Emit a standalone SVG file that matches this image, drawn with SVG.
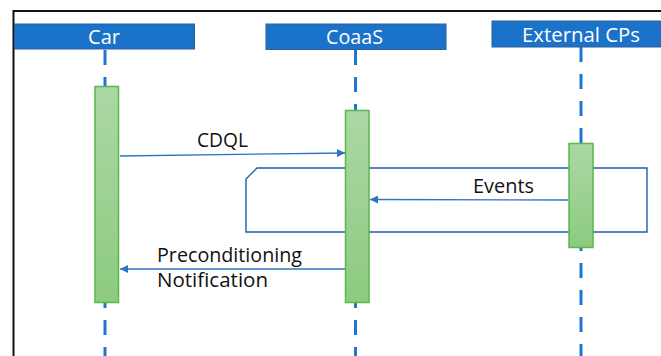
<svg xmlns="http://www.w3.org/2000/svg" width="661" height="356" viewBox="0 0 661 356">
  <defs>
    <linearGradient id="barFill" x1="0" y1="0" x2="0" y2="1">
      <stop offset="0" stop-color="#abd8a4"/>
      <stop offset="1" stop-color="#8dcb80"/>
    </linearGradient>
    <marker id="arrowHead" viewBox="0 0 10 10" refX="10" refY="5" markerWidth="9" markerHeight="8" markerUnits="userSpaceOnUse" orient="auto">
      <path d="M0,0 L10,5 L0,10 Z" fill="#2f74c0"/>
    </marker>
    <style>
      .head { fill: #1b72c9; stroke: #2b5f9c; stroke-width: 1; }
      .headText { font-family: "Open Sans", "Liberation Sans", sans-serif; font-size: 20px; fill: #ffffff; text-anchor: middle; }
      .lifeline { stroke: #1f76cf; stroke-width: 3; stroke-dasharray: 15 12; fill: none; }
      .bar { fill: url(#barFill); stroke: #58b84e; stroke-width: 1.5; }
      .msg { stroke: #2f74c0; stroke-width: 1.3; fill: none; marker-end: url(#arrowHead); }
      .label { font-family: "Open Sans", "Liberation Sans", sans-serif; font-size: 19.5px; fill: #111111; }
      .loop { fill: none; stroke: #1f5fa8; stroke-width: 1.4; }
      .border { stroke: #111111; stroke-width: 2; fill: none; }
    </style>
  </defs>

  <rect width="661" height="356" fill="#ffffff"/>

  <!-- outer border -->
  <path class="border" d="M13.5,356 L13.5,11 L661,11"/>

  <!-- lifelines -->
  <g id="lifelines">
    <line class="lifeline" x1="105" y1="50" x2="105" y2="356"/>
    <line class="lifeline" x1="355.5" y1="50" x2="355.5" y2="356"/>
    <line class="lifeline" x1="581" y1="47" x2="581" y2="356"/>
  </g>

  <!-- loop frame -->
  <g id="loop">
    <path class="loop" d="M246,179 L257,168 L647,168 L647,232 L246,232 Z"/>
  </g>

  <g id="car">
    <rect class="head" x="14.5" y="24" width="180" height="25"/>
    <text class="headText" x="104" y="44" textLength="32" lengthAdjust="spacingAndGlyphs">Car</text>
    <rect class="bar" x="95" y="86.5" width="23.5" height="216"/>
  </g>

  <g id="coaas">
    <rect class="head" x="266" y="24" width="180" height="25.5"/>
    <text class="headText" x="354.5" y="44" textLength="57" lengthAdjust="spacingAndGlyphs">CoaaS</text>
    <rect class="bar" x="345.5" y="110.5" width="23.5" height="192"/>
  </g>

  <g id="external-cps">
    <rect class="head" x="492" y="21" width="170" height="26"/>
    <text class="headText" x="581" y="41.5" textLength="118" lengthAdjust="spacingAndGlyphs">External CPs</text>
    <rect class="bar" x="569" y="143.5" width="24" height="104"/>
  </g>

  <!-- messages -->
  <g id="connectors">
    <line class="msg" x1="120" y1="156" x2="345" y2="153"/>
    <text class="label" x="197" y="147" textLength="51" lengthAdjust="spacingAndGlyphs">CDQL</text>
    <line class="msg" x1="568" y1="200" x2="370" y2="199.5"/>
    <text class="label" x="473" y="193" textLength="61" lengthAdjust="spacingAndGlyphs">Events</text>
    <line class="msg" x1="345" y1="269" x2="120" y2="269"/>
    <text class="label" x="157" y="261.5" textLength="145" lengthAdjust="spacingAndGlyphs">Preconditioning</text>
    <text class="label" x="157" y="286.5" textLength="111" lengthAdjust="spacingAndGlyphs">Notification</text>
  </g>
</svg>
